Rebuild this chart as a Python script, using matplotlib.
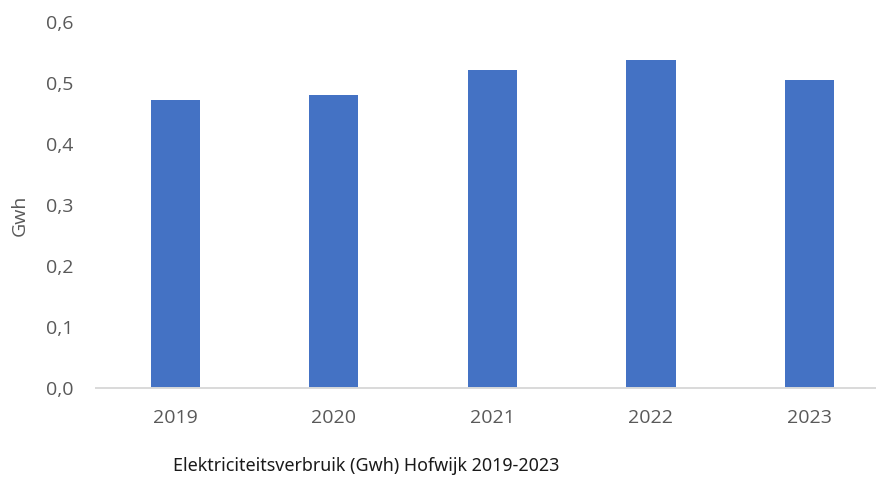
import matplotlib
matplotlib.use("Agg")
import matplotlib.pyplot as plt
from matplotlib.ticker import FuncFormatter

years = ["2019", "2020", "2021", "2022", "2023"]
verbruik_gwh = [0.470, 0.479, 0.520, 0.536, 0.504]
y_ticks = [0.0, 0.1, 0.2, 0.3, 0.4, 0.5, 0.6]

W, H = 876, 481
fig = plt.figure(figsize=(W / 100, H / 100), dpi=100)

left, right = 96, 888.8
top, bottom = 22, 388.5
ax = fig.add_axes([left / W, 1 - bottom / H, (right - left) / W, (bottom - top) / H])

x = range(len(years))
ax.bar(x, verbruik_gwh, width=0.31, color="#4472C4", zorder=2)

ax.set_xlim(-0.5, len(years) - 0.5)
ax.set_ylim(0, 0.6)
ax.set_yticks(y_ticks)
ax.yaxis.set_major_formatter(FuncFormatter(lambda v, p: f"{v:.1f}".replace(".", ",")))
ax.set_xticks(list(x))
ax.set_xticklabels(years)

for s in ["top", "right", "left"]:
    ax.spines[s].set_visible(False)
ax.spines["bottom"].set_color("#d9d9d9")
ax.spines["bottom"].set_linewidth(1.4)

tick_font = "Open Sans"
ax.tick_params(axis="both", length=0, colors="#595959", labelsize=14)
ax.tick_params(axis="y", pad=16.5)
ax.tick_params(axis="x", pad=15)
for lab in ax.get_xticklabels() + ax.get_yticklabels():
    lab.set_fontfamily(tick_font)

fig.text(20 / W, 1 - 215 / H, "Gwh", rotation=90, ha="center", va="center",
         fontsize=14, color="#595959", fontfamily=tick_font)

fig.text(366 / W, 1 - 466 / H, "Elektriciteitsverbruik (Gwh) Hofwijk 2019-2023",
         ha="center", va="center", fontsize=12.9, color="#1a1a1a", fontfamily="Noto Sans")

fig.savefig("out.png", dpi=100)
